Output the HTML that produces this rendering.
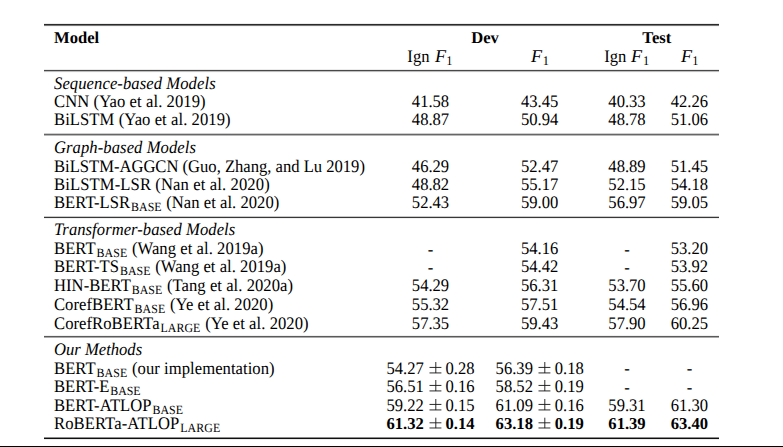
<!DOCTYPE html>
<html><head><meta charset="utf-8"><style>
html,body{margin:0;padding:0;background:#fff;}
body{width:783px;height:447px;position:relative;overflow:hidden;}
.t{position:absolute;white-space:nowrap;font-family:"Liberation Serif",serif;font-size:16.6px;line-height:20px;color:#000;transform:scaleY(1.06);transform-origin:0 15px;text-rendering:geometricPrecision;}
.c{width:200px;text-align:center;}
.ns{transform:none;}
.s{font-size:11.9px;position:relative;top:2.7px;margin-left:0.9px;margin-right:0.5px;}
.pm{display:inline-block;width:21.8px;text-align:center;font-weight:normal;}
.pm svg{overflow:visible;display:inline-block;vertical-align:baseline;position:relative;left:0.9px;}
.d{position:relative;top:1px;}
.F{font-size:17px;line-height:10px;display:inline-block;transform:scaleX(1.07);transform-origin:0 0;margin-right:1.2px;margin-left:1.0px;}
.one{font-size:12.4px;line-height:10px;position:relative;top:2.6px;}
.r{position:absolute;left:44px;width:675px;}
.bot{position:absolute;left:0;width:783px;top:446px;height:1px;background:#000;}
</style></head><body>
<div class='t ns' style='left:54.00px;top:28.00px'><b>Model</b></div>
<div class='t c ns' style='left:385.00px;top:28.00px'><b>Dev</b></div>
<div class='t c ns' style='left:556.80px;top:28.00px'><b>Test</b></div>
<div class='t c ' style='left:329.90px;top:47.00px'>Ign <i class='F'>F</i><span class='one'>1</span></div>
<div class='t c ' style='left:439.50px;top:47.00px'><i class='F'>F</i><span class='one'>1</span></div>
<div class='t c ' style='left:526.70px;top:47.00px'>Ign <i class='F'>F</i><span class='one'>1</span></div>
<div class='t c ' style='left:589.00px;top:47.00px'><i class='F'>F</i><span class='one'>1</span></div>
<div class='t ' style='left:54.00px;top:74.00px;letter-spacing:0.085px'><i>Sequence-based Models</i></div>
<div class='t ' style='left:54.00px;top:92.00px;letter-spacing:0.085px'>CNN (Yao et al. 2019)</div>
<div class='t c ' style='left:330.50px;top:92.00px'>41.58</div>
<div class='t c ' style='left:439.70px;top:92.00px'>43.45</div>
<div class='t c ' style='left:527.00px;top:92.00px'>40.33</div>
<div class='t c ' style='left:589.40px;top:92.00px'>42.26</div>
<div class='t ' style='left:54.00px;top:110.00px;letter-spacing:0.078px'>BiLSTM (Yao et al. 2019)</div>
<div class='t c ' style='left:330.50px;top:110.00px'>48.87</div>
<div class='t c ' style='left:439.70px;top:110.00px'>50.94</div>
<div class='t c ' style='left:527.00px;top:110.00px'>48.78</div>
<div class='t c ' style='left:589.40px;top:110.00px'>51.06</div>
<div class='t ' style='left:54.00px;top:138.00px;letter-spacing:0.082px'><i>Graph-based Models</i></div>
<div class='t ' style='left:54.00px;top:157.00px;letter-spacing:-0.005px'>BiLSTM-AGGCN (Guo, Zhang, and Lu 2019)</div>
<div class='t c ' style='left:330.50px;top:157.00px'>46.29</div>
<div class='t c ' style='left:439.70px;top:157.00px'>52.47</div>
<div class='t c ' style='left:527.00px;top:157.00px'>48.89</div>
<div class='t c ' style='left:589.40px;top:157.00px'>51.45</div>
<div class='t ' style='left:54.00px;top:175.00px;letter-spacing:0.119px'>BiLSTM-LSR (Nan et al. 2020)</div>
<div class='t c ' style='left:330.50px;top:175.00px'>48.82</div>
<div class='t c ' style='left:439.70px;top:175.00px'>55.17</div>
<div class='t c ' style='left:527.00px;top:175.00px'>52.15</div>
<div class='t c ' style='left:589.40px;top:175.00px'>54.18</div>
<div class='t ' style='left:54.00px;top:193.00px;letter-spacing:0.038px'>BERT-LSR<span class='s'>BASE</span> (Nan et al. 2020)</div>
<div class='t c ' style='left:330.50px;top:193.00px'>52.43</div>
<div class='t c ' style='left:439.70px;top:193.00px'>59.00</div>
<div class='t c ' style='left:527.00px;top:193.00px'>56.97</div>
<div class='t c ' style='left:589.40px;top:193.00px'>59.05</div>
<div class='t ' style='left:54.00px;top:220.00px;letter-spacing:0.057px'><i>Transformer-based Models</i></div>
<div class='t ' style='left:54.00px;top:239.00px;letter-spacing:0.063px'>BERT<span class='s'>BASE</span> (Wang et al. 2019a)</div>
<div class='t c ' style='left:330.50px;top:239.00px'><span class='d'>-</span></div>
<div class='t c ' style='left:439.70px;top:239.00px'>54.16</div>
<div class='t c ' style='left:527.00px;top:239.00px'><span class='d'>-</span></div>
<div class='t c ' style='left:589.40px;top:239.00px'>53.20</div>
<div class='t ' style='left:54.00px;top:257.00px;letter-spacing:0.040px'>BERT-TS<span class='s'>BASE</span> (Wang et al. 2019a)</div>
<div class='t c ' style='left:330.50px;top:257.00px'><span class='d'>-</span></div>
<div class='t c ' style='left:439.70px;top:257.00px'>54.42</div>
<div class='t c ' style='left:527.00px;top:257.00px'><span class='d'>-</span></div>
<div class='t c ' style='left:589.40px;top:257.00px'>53.92</div>
<div class='t ' style='left:54.00px;top:276.00px;letter-spacing:0.048px'>HIN-BERT<span class='s'>BASE</span> (Tang et al. 2020a)</div>
<div class='t c ' style='left:330.50px;top:276.00px'>54.29</div>
<div class='t c ' style='left:439.70px;top:276.00px'>56.31</div>
<div class='t c ' style='left:527.00px;top:276.00px'>53.70</div>
<div class='t c ' style='left:589.40px;top:276.00px'>55.60</div>
<div class='t ' style='left:54.00px;top:295.00px;letter-spacing:0.055px'>CorefBERT<span class='s'>BASE</span> (Ye et al. 2020)</div>
<div class='t c ' style='left:330.50px;top:295.00px'>55.32</div>
<div class='t c ' style='left:439.70px;top:295.00px'>57.51</div>
<div class='t c ' style='left:527.00px;top:295.00px'>54.54</div>
<div class='t c ' style='left:589.40px;top:295.00px'>56.96</div>
<div class='t ' style='left:54.00px;top:314.00px;letter-spacing:0.067px'>CorefRoBERTa<span class='s'>LARGE</span> (Ye et al. 2020)</div>
<div class='t c ' style='left:330.50px;top:314.00px'>57.35</div>
<div class='t c ' style='left:439.70px;top:314.00px'>59.43</div>
<div class='t c ' style='left:527.00px;top:314.00px'>57.90</div>
<div class='t c ' style='left:589.40px;top:314.00px'>60.25</div>
<div class='t ' style='left:54.00px;top:340.00px;letter-spacing:0.010px'><i>Our Methods</i></div>
<div class='t ' style='left:54.00px;top:359.00px;letter-spacing:0.064px'>BERT<span class='s'>BASE</span> (our implementation)</div>
<div class='t c ' style='left:330.50px;top:359.00px'>54.27<span class='pm'><svg width='11.6' height='14' viewBox='0 0 11.6 14'><path d='M5.8 2.7V13.1M-0.5 7.8H11.4M-0.5 13.0H11.4' stroke='#1a1a1a' stroke-width='0.9' fill='none'/></svg></span>0.28</div>
<div class='t c ' style='left:439.70px;top:359.00px'>56.39<span class='pm'><svg width='11.6' height='14' viewBox='0 0 11.6 14'><path d='M5.8 2.7V13.1M-0.5 7.8H11.4M-0.5 13.0H11.4' stroke='#1a1a1a' stroke-width='0.9' fill='none'/></svg></span>0.18</div>
<div class='t c ' style='left:527.00px;top:359.00px'>-</div>
<div class='t c ' style='left:589.40px;top:359.00px'>-</div>
<div class='t ' style='left:54.00px;top:377.00px;letter-spacing:-0.033px'>BERT-E<span class='s'>BASE</span></div>
<div class='t c ' style='left:330.50px;top:377.00px'>56.51<span class='pm'><svg width='11.6' height='14' viewBox='0 0 11.6 14'><path d='M5.8 2.7V13.1M-0.5 7.8H11.4M-0.5 13.0H11.4' stroke='#1a1a1a' stroke-width='0.9' fill='none'/></svg></span>0.16</div>
<div class='t c ' style='left:439.70px;top:377.00px'>58.52<span class='pm'><svg width='11.6' height='14' viewBox='0 0 11.6 14'><path d='M5.8 2.7V13.1M-0.5 7.8H11.4M-0.5 13.0H11.4' stroke='#1a1a1a' stroke-width='0.9' fill='none'/></svg></span>0.19</div>
<div class='t c ' style='left:527.00px;top:377.00px'><span class='d'>-</span></div>
<div class='t c ' style='left:589.40px;top:377.00px'><span class='d'>-</span></div>
<div class='t ' style='left:54.00px;top:396.00px;letter-spacing:0.054px'>BERT-ATLOP<span class='s'>BASE</span></div>
<div class='t c ' style='left:330.50px;top:396.00px'>59.22<span class='pm'><svg width='11.6' height='14' viewBox='0 0 11.6 14'><path d='M5.8 2.7V13.1M-0.5 7.8H11.4M-0.5 13.0H11.4' stroke='#1a1a1a' stroke-width='0.9' fill='none'/></svg></span>0.15</div>
<div class='t c ' style='left:439.70px;top:396.00px'>61.09<span class='pm'><svg width='11.6' height='14' viewBox='0 0 11.6 14'><path d='M5.8 2.7V13.1M-0.5 7.8H11.4M-0.5 13.0H11.4' stroke='#1a1a1a' stroke-width='0.9' fill='none'/></svg></span>0.16</div>
<div class='t c ' style='left:527.00px;top:396.00px'>59.31</div>
<div class='t c ' style='left:589.40px;top:396.00px'>61.30</div>
<div class='t ' style='left:54.00px;top:414.00px;letter-spacing:0.094px'>RoBERTa-ATLOP<span class='s'>LARGE</span></div>
<div class='t c ns' style='left:330.50px;top:414.00px'><b>61.32<span class='pm'><svg width='11.6' height='14' viewBox='0 0 11.6 14'><path d='M5.8 2.7V13.1M-0.5 7.8H11.4M-0.5 13.0H11.4' stroke='#1a1a1a' stroke-width='0.9' fill='none'/></svg></span>0.14</b></div>
<div class='t c ns' style='left:439.70px;top:414.00px'><b>63.18<span class='pm'><svg width='11.6' height='14' viewBox='0 0 11.6 14'><path d='M5.8 2.7V13.1M-0.5 7.8H11.4M-0.5 13.0H11.4' stroke='#1a1a1a' stroke-width='0.9' fill='none'/></svg></span>0.19</b></div>
<div class='t c ns' style='left:527.00px;top:414.00px'><b>61.39</b></div>
<div class='t c ns' style='left:589.40px;top:414.00px'><b>63.40</b></div>
<div class='r' style='top:23px;height:1px;background:#ebebeb'></div>
<div class='r' style='top:24px;height:1px;background:#2a2a2a'></div>
<div class='r' style='top:25px;height:1px;background:#787878'></div>
<div class='r' style='top:26px;height:1px;background:#f5f5f5'></div>
<div class='r' style='top:69px;height:1px;background:#ebebeb'></div>
<div class='r' style='top:70px;height:1px;background:#484848'></div>
<div class='r' style='top:71px;height:1px;background:#bebebe'></div>
<div class='r' style='top:72px;height:1px;background:#fafafa'></div>
<div class='r' style='top:133px;height:1px;background:#cdcdcd'></div>
<div class='r' style='top:134px;height:1px;background:#666666'></div>
<div class='r' style='top:135px;height:1px;background:#b9b9b9'></div>
<div class='r' style='top:216px;height:1px;background:#c8c8c8'></div>
<div class='r' style='top:217px;height:1px;background:#373737'></div>
<div class='r' style='top:218px;height:1px;background:#f0f0f0'></div>
<div class='r' style='top:335px;height:1px;background:#f0f0f0'></div>
<div class='r' style='top:336px;height:1px;background:#5a5a5a'></div>
<div class='r' style='top:337px;height:1px;background:#aaaaaa'></div>
<div class='r' style='top:437px;height:1px;background:#8c8c8c'></div>
<div class='r' style='top:438px;height:1px;background:#0f0f0f'></div>
<div class='r' style='top:439px;height:1px;background:#ebebeb'></div>
<div class="bot"></div>
</body></html>
